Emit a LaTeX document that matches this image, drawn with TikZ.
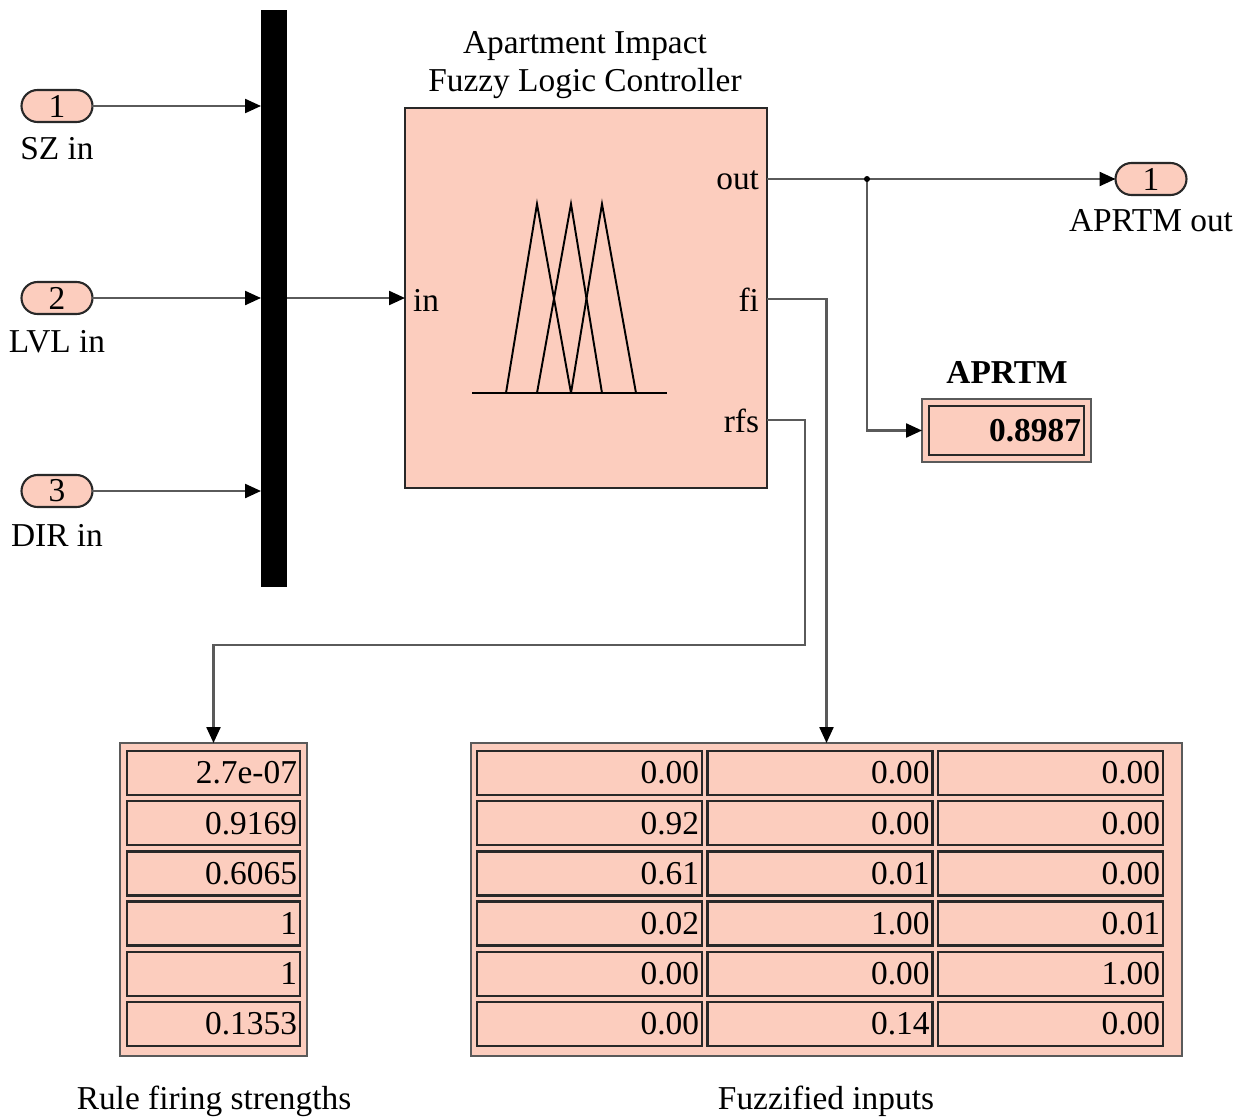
\documentclass[tikz,border=0pt]{standalone}
\usepackage{fontspec}
\setmainfont{Liberation Serif}
\usetikzlibrary{arrows.meta,calc}
\definecolor{blk}{RGB}{252,205,190}
\definecolor{wire}{RGB}{90,90,90}
\definecolor{edge}{RGB}{40,40,40}
\tikzset{
  every node/.style={font=\fontsize{19}{22}\selectfont, inner sep=0pt, outer sep=0pt},
  port/.style={draw=edge, line width=1.2pt, fill=blk, rounded corners=0.32cm,
               minimum width=1.42cm, minimum height=0.64cm},
  conn/.style={draw=wire, line width=1.3pt, -{Triangle[length=0.32cm,width=0.28cm,fill=black,color=black]}},
  panel/.style={draw=wire, line width=1.4pt, fill=blk},
  cell/.style={draw=edge, line width=1.3pt, fill=blk, minimum height=0.88cm,
               text width=#1, align=right, inner xsep=0.06cm},
  cell/.default=3.34cm,
}
\begin{document}
\begin{tikzpicture}[x=0.02cm,y=-0.02cm]
\useasboundingbox (0,0) rectangle (1242,1119);

% input ports
\node[port] (in1) at (57,106) {1};
\node[port] (in2) at (57,298) {2};
\node[port] (in3) at (57,491) {3};
\node (in1l) at (57,149) {SZ in};
\node (in2l) at (57,342) {LVL in};
\node (in3l) at (57,535) {DIR in};

% mux bar
\node[fill=black, minimum width=0.52cm, minimum height=11.54cm] (mux) at (274,298.5) {};

% fuzzy logic controller block
\node[draw=edge, line width=1.6pt, fill=blk, minimum width=7.24cm, minimum height=7.6cm] (flc) at (586,298) {};
\node[align=center] (flct) at (585,65) {Apartment Impact\\Fuzzy Logic Controller};
\coordinate (pin)  at (405,298);
\coordinate (pout) at (767,179);
\coordinate (pfi)  at (767,299);
\coordinate (prfs) at (767,420);
\node[anchor=west] (lin) at (413,300) {in};
\node[anchor=east] (lout) at (759,180) {out};
\node[anchor=east] (lfi) at (759,300) {fi};
\node[anchor=east] (lrfs) at (759,421) {rfs};
% membership function icon
\draw[line width=1.1pt, black] (472,393) -- (667,393);
\draw[line width=1.1pt, black] (506,393) -- (537,204) -- (571,393);
\draw[line width=1.1pt, black] (537,393) -- (571,204) -- (602,393);
\draw[line width=1.1pt, black] (571,393) -- (602,204) -- (636,393);

% output port
\node[port] (out1) at (1151,179) {1};
\node (out1l) at (1151,221) {APRTM out};

% APRTM display
\node[panel, minimum width=3.38cm, minimum height=1.26cm] (disp) at (1006.5,430.5) {};
\node[cell=2.98cm, minimum height=0.98cm, font=\fontsize{19}{22}\selectfont\bfseries] (dispv) at (1006.5,430.5) {0.8987};
\node[font=\fontsize{19}{22}\selectfont\bfseries] (dispt) at (1007,372) {APRTM};

% rule firing strengths display
\node[panel, minimum width=3.74cm, minimum height=6.26cm] (rfsd) at (213.5,899.5) {};
\foreach \v [count=\i from 0] in {2.7e-07,0.9169,0.6065,1,1,0.1353} {
  \node[cell] (r\i) at (213.5,{773+50.2*\i}) {\v};
}
\node (rfsl) at (214,1101) {Rule firing strengths};

% fuzzified inputs display
\node[panel, minimum width=14.22cm, minimum height=6.26cm] (fid) at (826.5,899.5) {};
\foreach \a/\b/\c [count=\i from 0] in {0.00/0.00/0.00, 0.92/0.00/0.00, 0.61/0.01/0.00,
                                          0.02/1.00/0.01, 0.00/0.00/1.00, 0.00/0.14/0.00} {
  \node[cell=4.38cm] (fa\i) at (589.5,{773+50.2*\i}) {\a};
  \node[cell=4.38cm] (fb\i) at (820,{773+50.2*\i}) {\b};
  \node[cell=4.38cm] (fc\i) at (1050.5,{773+50.2*\i}) {\c};
}
\node (fil) at (826,1101) {Fuzzified inputs};

% connections
\draw[conn] (in1.east) -- (mux.west |- in1);
\draw[conn] (in2.east) -- (mux.west |- in2);
\draw[conn] (in3.east) -- (mux.west |- in3);
\draw[conn] (mux.east |- pin) -- (pin);
\coordinate (br) at (867,179);
\draw[conn] (pout) -- (out1.west);
\draw[conn] (br) |- (disp.west);
\fill[black] (br) circle (0.06cm);
\draw[conn] (pfi) -| (fid.north);
\coordinate (k1) at (805,420);
\coordinate (k2) at (805,645);
\draw[conn] (prfs) -- (k1) -- (k2) -| (rfsd.north);
\end{tikzpicture}
\end{document}
